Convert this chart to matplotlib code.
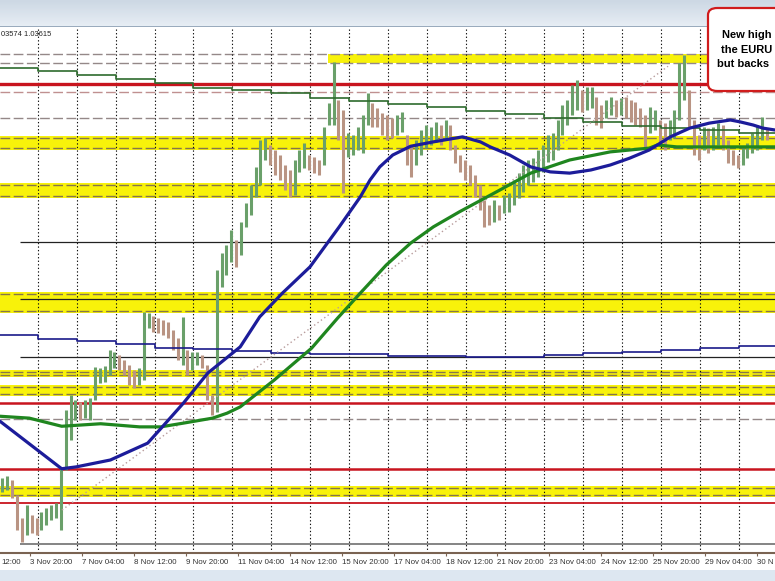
import numpy as np
import matplotlib.pyplot as plt
from matplotlib.patches import FancyBboxPatch, Rectangle
from matplotlib.colors import LinearSegmentedColormap

# EURUSD, 3-hour bars (x axis is in hours from the left edge)
bar_high = [
    0.9819, 0.9822, 0.9816, 0.9792, 0.9755, 0.9776, 0.9760, 0.9755, 0.9765, 0.9771,
    0.9776, 0.9779, 0.9835, 0.9928, 0.9952, 0.9944, 0.9941, 0.9944, 0.9947, 0.9997,
    0.9995, 0.9998, 1.0024, 1.0021, 1.0016, 1.0008, 1.0000, 0.9992, 0.9995, 1.0085,
    1.0083, 1.0078, 1.0075, 1.0072, 1.0069, 1.0056, 1.0043, 1.0077, 1.0024, 1.0021,
    1.0021, 1.0016, 1.0000, 0.9952, 1.0152, 1.0179, 1.0192, 1.0216, 1.0200, 1.0229,
    1.0259, 1.0288, 1.0317, 1.0360, 1.0363, 1.0352, 1.0344, 1.0336, 1.0320, 1.0312,
    1.0328, 1.0344, 1.0355, 1.0336, 1.0333, 1.0328, 1.0381, 1.0419, 1.0485, 1.0424,
    1.0408, 1.0371, 1.0368, 1.0381, 1.0400, 1.0435, 1.0419, 1.0411, 1.0403, 1.0400,
    1.0395, 1.0400, 1.0405, 1.0368, 1.0352, 1.0360, 1.0376, 1.0384, 1.0381, 1.0389,
    1.0384, 1.0392, 1.0384, 1.0352, 1.0336, 1.0328, 1.0320, 1.0304, 1.0288, 1.0264,
    1.0256, 1.0264, 1.0256, 1.0272, 1.0275, 1.0296, 1.0307, 1.0320, 1.0328, 1.0331,
    1.0344, 1.0352, 1.0368, 1.0371, 1.0392, 1.0416, 1.0424, 1.0448, 1.0456, 1.0440,
    1.0445, 1.0445, 1.0429, 1.0416, 1.0424, 1.0429, 1.0424, 1.0427, 1.0429, 1.0424,
    1.0421, 1.0411, 1.0400, 1.0413, 1.0408, 1.0392, 1.0387, 1.0392, 1.0408, 1.0483,
    1.0496, 1.0440, 1.0392, 1.0368, 1.0381, 1.0379, 1.0381, 1.0387, 1.0384, 1.0360,
    1.0344, 1.0336, 1.0347, 1.0355, 1.0371, 1.0384, 1.0397, 1.0379,
]
bar_low = [
    0.9797, 0.9800, 0.9787, 0.9736, 0.9717, 0.9728, 0.9731, 0.9728, 0.9736, 0.9744,
    0.9752, 0.9755, 0.9736, 0.9832, 0.9880, 0.9912, 0.9912, 0.9915, 0.9912, 0.9944,
    0.9971, 0.9973, 0.9984, 0.9995, 0.9992, 0.9984, 0.9968, 0.9963, 0.9968, 0.9976,
    1.0059, 1.0053, 1.0051, 1.0048, 1.0043, 1.0024, 1.0008, 1.0000, 0.9984, 0.9992,
    1.0000, 0.9995, 0.9944, 0.9920, 0.9925, 1.0125, 1.0144, 1.0165, 1.0157, 1.0176,
    1.0221, 1.0240, 1.0269, 1.0288, 1.0328, 1.0320, 1.0304, 1.0296, 1.0280, 1.0269,
    1.0272, 1.0309, 1.0315, 1.0312, 1.0307, 1.0304, 1.0320, 1.0384, 1.0384, 1.0360,
    1.0275, 1.0333, 1.0336, 1.0344, 1.0339, 1.0384, 1.0381, 1.0381, 1.0368, 1.0360,
    1.0363, 1.0368, 1.0373, 1.0320, 1.0301, 1.0320, 1.0336, 1.0347, 1.0352, 1.0357,
    1.0352, 1.0360, 1.0344, 1.0323, 1.0309, 1.0296, 1.0288, 1.0269, 1.0248, 1.0221,
    1.0224, 1.0229, 1.0232, 1.0243, 1.0245, 1.0256, 1.0267, 1.0277, 1.0288, 1.0293,
    1.0301, 1.0309, 1.0325, 1.0328, 1.0344, 1.0368, 1.0384, 1.0400, 1.0408, 1.0405,
    1.0408, 1.0411, 1.0384, 1.0379, 1.0395, 1.0400, 1.0397, 1.0400, 1.0395, 1.0389,
    1.0384, 1.0381, 1.0349, 1.0371, 1.0376, 1.0352, 1.0344, 1.0360, 1.0363, 1.0392,
    1.0424, 1.0381, 1.0336, 1.0328, 1.0344, 1.0339, 1.0344, 1.0352, 1.0344, 1.0323,
    1.0320, 1.0315, 1.0320, 1.0331, 1.0339, 1.0344, 1.0360, 1.0360,
]

# 100 hour MA (blue) and 200 hour MA (green), sampled where read
ma100_hours = [0, 18, 38, 47, 68, 91, 100, 113, 128, 148, 160, 174, 191, 200, 209,
               222, 228, 234, 242, 253, 267, 285, 296, 302, 314, 327, 339, 351, 364, 376,
               388, 400, 413, 425, 437, 450, 456, 464, 470, 477.5]
ma100 = [0.9910, 0.9874, 0.9834, 0.9837, 0.9848, 0.9875, 0.9901, 0.9939, 0.9987, 1.0029,
         1.0077, 1.0115, 1.0157, 1.0189, 1.0221, 1.0269, 1.0296, 1.0317, 1.0336, 1.0350,
         1.0357, 1.0365, 1.0357, 1.0349, 1.0336, 1.0317, 1.0309, 1.0307, 1.0312, 1.0320,
         1.0331, 1.0344, 1.0365, 1.0379, 1.0387, 1.0392, 1.0389, 1.0384, 1.0379, 1.0376]
ma200_hours = [0, 18, 38, 62, 86, 99, 113, 131, 140, 148, 169, 192, 208, 222, 238,
               253, 267, 283, 308, 327, 351, 376, 400, 405, 417, 477.5]
ma200 = [0.9918, 0.9915, 0.9902, 0.9906, 0.9901, 0.9901, 0.9907, 0.9915, 0.9923, 0.9933,
         0.9976, 1.0027, 1.0075, 1.0115, 1.0160, 1.0195, 1.0221, 1.0245, 1.0280, 1.0307,
         1.0328, 1.0341, 1.0347, 1.0352, 1.0349, 1.0349]

# daily moving averages, one value per day column
daily_ma_green = [1.0475, 1.0470, 1.0464, 1.0458, 1.0451, 1.0444, 1.0440, 1.0435, 1.0428, 1.0422,
                  1.0417, 1.0413, 1.0406, 1.0402, 1.0395, 1.0389, 1.0382, 1.0379, 1.0376, 1.0371]
daily_ma_blue = [1.0048, 1.0042, 1.0038, 1.0034, 1.0028, 1.0025, 1.0022, 1.0020, 1.0018, 1.0017,
                 1.0015, 1.0014, 1.0013, 1.0013, 1.0016, 1.0019, 1.0021, 1.0024, 1.0028, 1.0031]

# trend line from the 3 Nov low
trend_hours = [38.2, 411.6]
trend_price = [0.9768, 1.0478]

# horizontal levels
top_zone = (1.04827, 1.04971)
yellow_zones = [(1.03467, 1.03627), (1.02696, 1.02880), (1.00864, 1.01136),
                (0.99840, 0.99893), (0.99536, 0.99648), (0.97920, 0.98027)]
red_levels = [1.04491, 0.99397, 0.98341, 0.97797]
gray_dashed = [1.03947, 0.99136]
pink_dashed = [1.04363]
black_levels = [1.01973, 1.01056, 1.00123]
low_level = 0.97136

tick_labels = ["3 Nov 20:00", "7 Nov 04:00", "8 Nov 12:00", "9 Nov 20:00", "11 Nov 04:00",
               "14 Nov 12:00", "15 Nov 20:00", "17 Nov 04:00", "18 Nov 12:00", "21 Nov 20:00",
               "23 Nov 04:00", "24 Nov 12:00", "25 Nov 20:00", "29 Nov 04:00", "30 N"]

W, H = 775, 581
fig = plt.figure(figsize=(W / 100, H / 100), dpi=100)
fig.patch.set_facecolor('white')

ax = fig.add_axes([0, 28 / H, 1, 526 / H])
x_end = 477.5
ax.set_xlim(0, x_end)
ax.set_ylim(0.96992, 1.05408)
ax.set_facecolor('white')

# start of the lines that are anchored at the low
low_start = 12.3
pad = 0.0003
dash = (0, (7, 2.5))

# yellow zones with dashed edges
ax.fill_between([202, x_end], top_zone[0], top_zone[1], color='#f8f20a', lw=0, zorder=1)
for lvl in top_zone:
    ax.axhline(lvl, color='#948888', lw=1, ls=dash, zorder=2)
for lo, hi in yellow_zones:
    ax.axhspan(lo - pad, hi + pad, color='#f8f20a', lw=0, zorder=1)
    ax.axhline(lo, color='#86764a', lw=1, ls=dash, zorder=2)
    ax.axhline(hi, color='#86764a', lw=1, ls=dash, zorder=2)

for lvl in gray_dashed:
    ax.axhline(lvl, color='#948888', lw=1, ls=dash, zorder=2)
for lvl in pink_dashed:
    ax.axhline(lvl, color='#c09090', lw=1, ls=dash, zorder=2)
for lvl, w in zip(red_levels, [2.4, 1.8, 1.8, 1.3]):
    ax.axhline(lvl, color='#c8141e', lw=w, zorder=3)
ax.hlines(black_levels, low_start, x_end, color='#222222', lw=0.9, zorder=3)
ax.hlines(low_level, low_start, x_end, color='#707070', lw=1.2, zorder=3)

# day separators
grid_hours = 23.2 + 24 * np.arange(19)
for gx in grid_hours:
    ax.axvline(gx, color='#111111', lw=0.8, ls=(0, (1.2, 2)), zorder=2)

# price bars
bar_hours = 1.5 + 3 * np.arange(len(bar_high))
hi = np.array(bar_high)
lo = np.array(bar_low)
mid = (hi + lo) / 2
up = np.r_[True, mid[1:] >= mid[:-1]]
colors = np.where(up, '#6aa06a', '#b99483')
ax.vlines(bar_hours, lo, hi, colors=colors, lw=2.2, zorder=4)

# daily MAs as steps
day_edges = np.r_[0, grid_hours, x_end]
ax.step(day_edges, daily_ma_green + daily_ma_green[-1:], where='post',
        color='#2e6b2e', lw=1.2, zorder=5)
ax.step(day_edges, daily_ma_blue + daily_ma_blue[-1:], where='post',
        color='#1a1a8a', lw=1.2, zorder=5)

# trend line and hourly MAs
ax.plot(trend_hours, trend_price, color='#b89c9c', lw=1, ls=(0, (1, 2)), zorder=5)
ax.plot(ma200_hours, ma200, color='#1f861f', lw=2.3, zorder=6)
ax.plot(ma100_hours, ma100, color='#1c1c9a', lw=2.3, zorder=6)

# axis styling
for s in ['left', 'right', 'top']:
    ax.spines[s].set_visible(False)
ax.spines['bottom'].set_color('#7a6352')
ax.spines['bottom'].set_linewidth(1.5)
ax.set_yticks([])
ax.set_xticks(18.5 + 32 * np.arange(len(tick_labels)))
ax.set_xticklabels(tick_labels, fontsize=5.7, family='Liberation Sans', color='#333333')
for lbl in ax.get_xticklabels():
    lbl.set_ha('left')
ax.tick_params(axis='x', length=2.5, width=0.8, color='#7a6352', pad=1.5)
fig.text(1 / W, (H - 563) / H, "12:00", fontsize=5.7, family='Liberation Sans',
         color='#333333', ha='left', va='center')

ax.text(1 / W, (553 - 35) / 526, "03574 1.03615", transform=ax.transAxes,
        fontsize=5.4, family='Liberation Sans', color='#222222',
        ha='left', va='center', zorder=7)

# window header and footer
header = fig.add_axes([0, (H - 26) / H, 1, 26 / H])
header.imshow(np.linspace(0, 1, 26)[:, None], aspect='auto', extent=[0, 1, 0, 1],
              cmap=LinearSegmentedColormap.from_list('hdr', ['#cdd8e4', '#e6edf4']))
header.axis('off')
fig.add_artist(Rectangle((0, (H - 27) / H), 1, 1.2 / H, transform=fig.transFigure,
                         color='#9aabbd', lw=0))
fig.add_artist(Rectangle((0, 0), 1, 11 / H, transform=fig.transFigure,
                         color='#dde7f1', lw=0))

# call-out box
box = FancyBboxPatch((708 / W, (H - 91) / H), 0.15, 83 / H,
                     boxstyle="round,pad=0,rounding_size=0.012",
                     transform=fig.transFigure, fc='white', ec='#d01c1c', lw=1.6, zorder=10)
fig.add_artist(box)
for txt, tx, ty in [("New high", 722, 35), ("the EURU", 721, 50), ("but backs", 717, 64)]:
    fig.text(tx / W, (H - ty) / H, txt, fontsize=8.0, fontweight='bold',
             family='Liberation Sans', ha='left', va='center', zorder=11)

fig.savefig('out.png', dpi=100)
